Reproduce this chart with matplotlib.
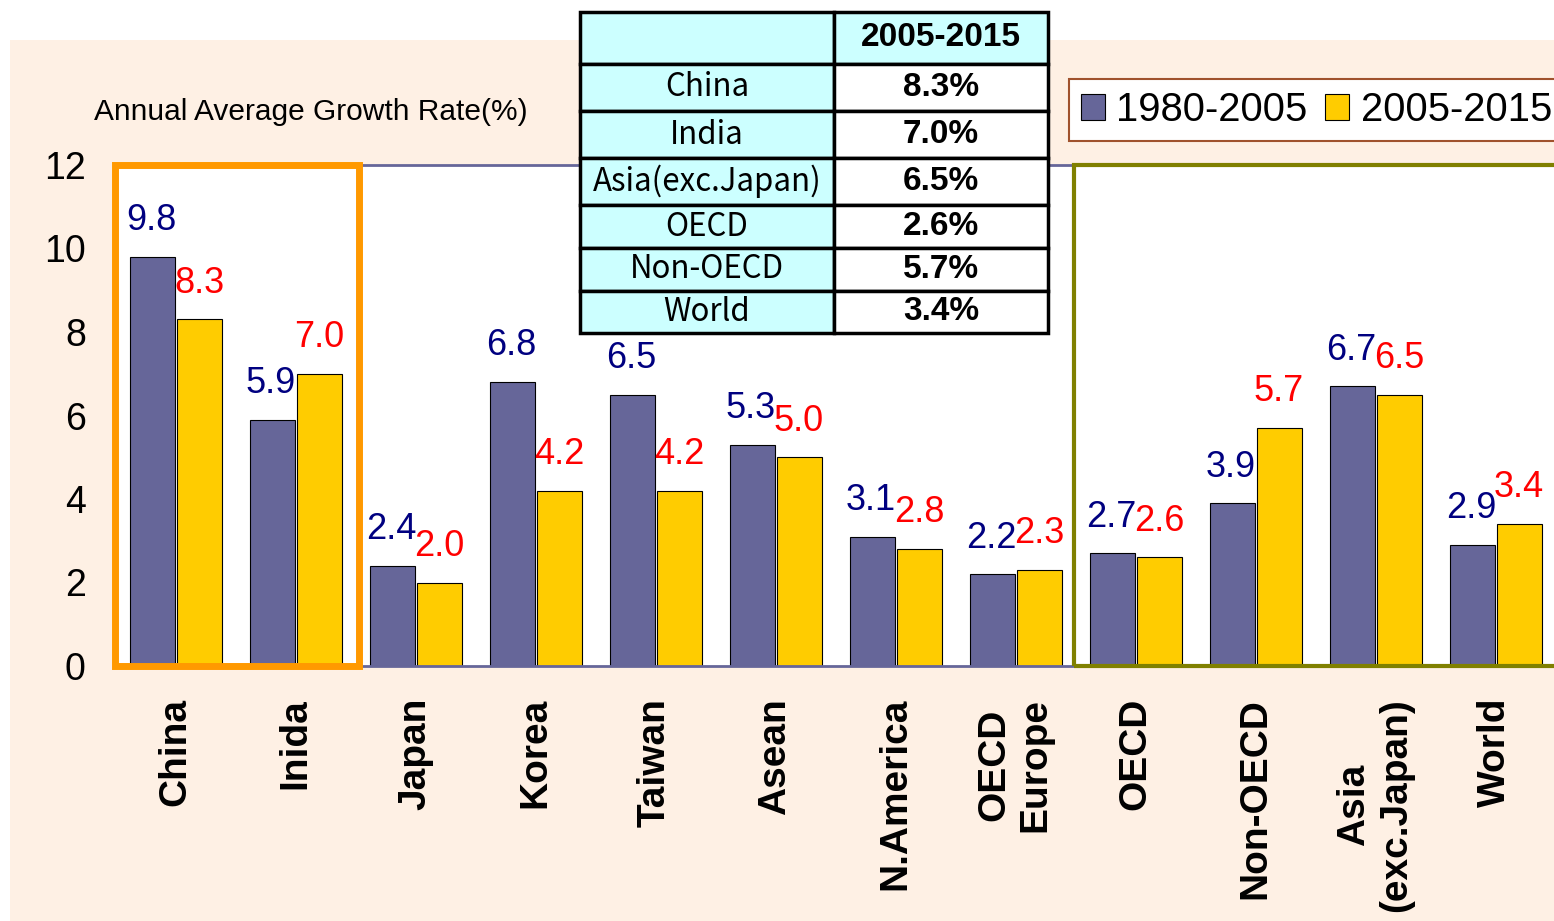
# Annual average growth rate by region, 1980-2005 vs 2005-2015

import numpy as np
import matplotlib
matplotlib.use('Agg')
import matplotlib.pyplot as plt
from matplotlib.patches import Rectangle

plt.rcParams['font.family'] = ['Liberation Sans', 'DejaVu Sans']

# data
regions = ['China', 'Inida', 'Japan', 'Korea', 'Taiwan', 'Asean', 'N.America',
           'OECD\nEurope', 'OECD', 'Non-OECD', 'Asia\n(exc.Japan)', 'World']
growth_1980_2005 = [9.8, 5.9, 2.4, 6.8, 6.5, 5.3, 3.1, 2.2, 2.7, 3.9, 6.7, 2.9]
growth_2005_2015 = [8.3, 7.0, 2.0, 4.2, 4.2, 5.0, 2.8, 2.3, 2.6, 5.7, 6.5, 3.4]
series_names = ['1980-2005', '2005-2015']

# inset table
table_rows = ['China', 'India', 'Asia(exc.Japan)', 'OECD', 'Non-OECD', 'World']
table_vals = ['8.3%', '7.0%', '6.5%', '2.6%', '5.7%', '3.4%']
table_head = '2005-2015'

W, H = 1554, 921
fig = plt.figure(figsize=(W / 100, H / 100), dpi=100)

# peach background panel
fig.patches.append(Rectangle((10 / W, 0), 1 - 10 / W, 1 - 40 / H, transform=fig.transFigure,
                             facecolor='#FEF0E4', edgecolor='none', zorder=-1))

ax = fig.add_axes([115 / W, 1 - 666 / H, 1440 / W, (666 - 165) / H])
ax.set_facecolor('white')

x = np.arange(len(regions))
b1 = ax.bar(x - 0.19, growth_1980_2005, 0.375, color='#666699', edgecolor='black', linewidth=0.8)
b2 = ax.bar(x + 0.2, growth_2005_2015, 0.375, color='#FFCC00', edgecolor='black', linewidth=0.8)

# value labels above bars
for i, v in enumerate(growth_1980_2005):
    ax.annotate(f'{v:.1f}', (x[i] - 0.2, v), xytext=(0, 26), textcoords='offset points',
                ha='center', va='center', color='#000080', fontsize=26)
for i, v in enumerate(growth_2005_2015):
    ax.annotate(f'{v:.1f}', (x[i] + 0.2, v), xytext=(0, 26), textcoords='offset points',
                ha='center', va='center', color='#FF0000', fontsize=26)

ax.set_xlim(-0.5, 11.5)
ax.set_ylim(0, 12)
ax.set_yticks(range(0, 13, 2))
ax.tick_params(axis='y', length=0, labelsize=27, pad=21)
ax.set_xticks(x)
ax.set_xticklabels(regions, rotation=90, fontsize=28, fontweight='bold',
                   ha='center', va='top', multialignment='center')
ax.tick_params(axis='x', length=0, pad=23)

for s in ['left', 'right']:
    ax.spines[s].set_visible(False)
for s in ['top', 'bottom']:
    ax.spines[s].set_color('#666699')
    ax.spines[s].set_linewidth(2)

# highlight boxes
ax.add_patch(Rectangle((-0.5, 0), 2.03, 12, fill=False, edgecolor='#FF9900', linewidth=5,
                       clip_on=False, zorder=5))
ax.add_patch(Rectangle((7.49, 0), 4.6, 12, fill=False, edgecolor='#808000', linewidth=3,
                       clip_on=False, zorder=5))

fig.text(94 / W, 1 - 112 / H, 'Annual Average Growth Rate(%)', va='center', ha='left', fontsize=21.5)

# legend
leg = fig.legend([b1, b2], series_names, loc='upper left', bbox_to_anchor=(1069 / W, 1 - 79 / H),
                 ncol=2, fontsize=28.8, frameon=True, fancybox=False, edgecolor='#A0522D',
                 framealpha=1, handlelength=0.6, handleheight=0.6, handletextpad=0.28,
                 columnspacing=0.45, borderpad=0.3, borderaxespad=0)
leg.get_frame().set_linewidth(1.5)

# table
tax = fig.add_axes([580 / W, 1 - 333 / H, 468 / W, 321 / H])
tax.axis('off')
cell_text = [['', table_head]] + [[r, v] for r, v in zip(table_rows, table_vals)]
row_h = [52, 47, 47, 47, 43, 43, 42]
tbl = tax.table(cellText=cell_text, bbox=[0, 0, 1, 1], colWidths=[254 / 468, 214 / 468],
                cellLoc='center')
tbl.auto_set_font_size(False)
for (r, c), cell in tbl.get_celld().items():
    cell.set_linewidth(2.5)
    cell.set_edgecolor('black')
    cell.set_height(row_h[r])
    if c == 0 or r == 0:
        cell.set_facecolor('#CCFFFF')
    else:
        cell.set_facecolor('white')
    t = cell.get_text()
    if c == 1:
        t.set_fontsize(24)
        t.set_fontweight('bold')
    else:
        t.set_fontsize(22.5)
        t.set_fontfamily(['Noto Sans CJK JP', 'DejaVu Sans'])

fig.savefig('out.png', dpi=100)
